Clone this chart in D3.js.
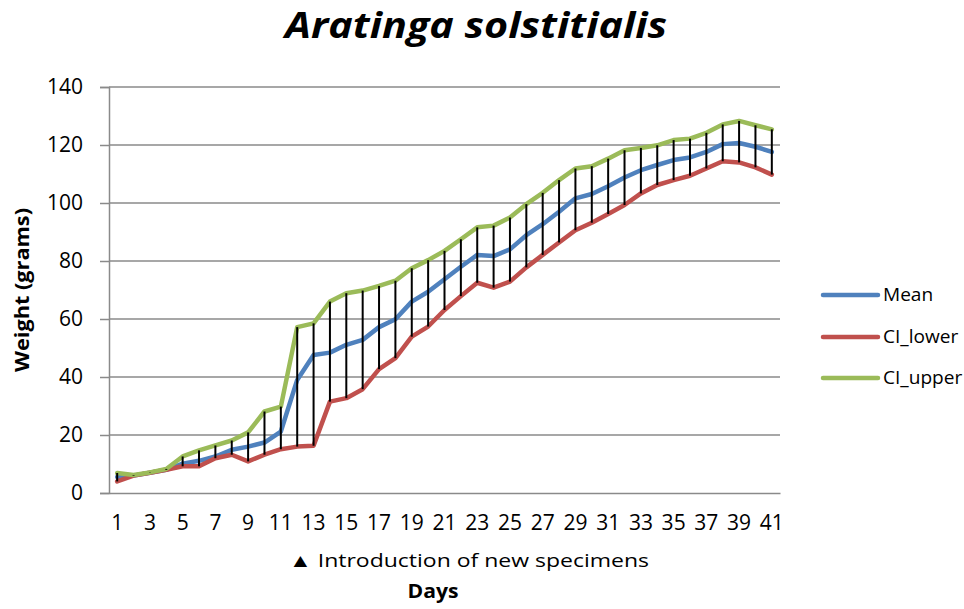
<!DOCTYPE html>
<html><head><meta charset="utf-8">
<script src="https://cdn.jsdelivr.net/npm/d3@7"></script>
<style>body{margin:0;background:#fff;} svg{display:block;font-family:"Open Sans",sans-serif;}</style>
</head><body>
<svg id="c" width="964" height="609"></svg>
<script>
const days = d3.range(1, 42);
const meanVals = [5.5,6,7,8,10.1,11.1,12.6,14.9,16,17.4,21.2,39,47.6,48.4,51.1,52.8,57.2,59.9,66,69.4,73.7,78,82.1,81.7,84,88.9,92.7,97,101.6,103.1,105.8,108.8,111.3,113.1,114.8,115.7,117.6,120.3,120.7,119.4,117.6];
const lowerVals = [4,6,7,8,9.2,9.2,12,13.2,10.9,13.2,15.1,16,16.3,31.5,32.7,35.8,42.7,46.5,53.9,57.4,63.1,67.9,72.5,70.8,72.9,77.8,82.1,86.4,90.6,93.2,96.2,99.3,103.3,106.2,107.9,109.4,111.9,114.4,114,112.3,109.8];
const upperVals = [6.9,6.2,7.1,8.3,12.6,14.7,16.4,18.1,20.9,28.1,29.8,57.2,58.5,66,68.9,69.8,71.4,73.2,77.5,80.3,83.5,87.5,91.6,92.2,95,99.6,103.5,107.9,111.9,112.7,115.3,118.2,119,119.9,121.7,122.2,124.2,127.1,128.3,126.8,125.4];
const seriesNames = ["Mean","CI_lower","CI_upper"];
const seriesColors = ["#4F81BD","#C0504D","#9BBB59"];
const yTicks = [0,20,40,60,80,100,120,140];
const xTickLabels = days.filter(d => d % 2 === 1);

const svg = d3.select("#c");
const L = 109, R = 780, T = 87, B = 493;
const x = d3.scaleBand().domain(days).range([L, R]);
const y = d3.scaleLinear().domain([0, 140]).range([B, T]);
const cx = d => x(d) + x.bandwidth() / 2;

// gridlines
svg.append("g").selectAll("line").data(yTicks.filter(t => t > 0)).join("line")
  .attr("x1", L).attr("x2", R).attr("y1", d => y(d)).attr("y2", d => y(d))
  .attr("stroke", "#8a8a8a").attr("stroke-width", 1.5);

// y axis
const yAxis = svg.append("g").attr("transform", `translate(${L},0)`)
  .call(d3.axisLeft(y).tickValues(yTicks).tickSize(9).tickPadding(17));
yAxis.select(".domain").attr("stroke", "#8a8a8a").attr("stroke-width", 1.5);
yAxis.selectAll(".tick line").attr("stroke", "#8a8a8a").attr("stroke-width", 1.5);
yAxis.selectAll("text").attr("font-family", "Open Sans").attr("font-size", 21).attr("fill", "#000");

// x axis
const xAxis = svg.append("g").attr("transform", `translate(0,${B})`)
  .call(d3.axisBottom(x).tickValues(xTickLabels).tickSize(0).tickPadding(22));
xAxis.select(".domain").attr("stroke", "#8a8a8a").attr("stroke-width", 1.5);
xAxis.selectAll("text").attr("font-family", "Open Sans").attr("font-size", 21).attr("fill", "#000");

// lines
const allSeries = [meanVals, lowerVals, upperVals];
const line = d3.line().x((v, i) => cx(days[i])).y(v => y(v));
allSeries.forEach((vals, k) => {
  svg.append("path").datum(vals).attr("d", line)
    .attr("fill", "none").attr("stroke", seriesColors[k]).attr("stroke-width", 4.5)
    .attr("stroke-linejoin", "round").attr("stroke-linecap", "round");
});

// high-low bars
svg.append("g").selectAll("line").data(days).join("line")
  .attr("x1", d => cx(d)).attr("x2", d => cx(d))
  .attr("y1", (d, i) => y(upperVals[i])).attr("y2", (d, i) => y(lowerVals[i]))
  .attr("stroke", "#000").attr("stroke-width", 2);

// title
svg.append("text").attr("x", 476).attr("y", 38).attr("text-anchor", "middle")
  .attr("font-family", "Open Sans").attr("font-weight", "bold").attr("font-style", "italic")
  .attr("font-size", 35).attr("textLength", 382).attr("lengthAdjust", "spacingAndGlyphs")
  .text("Aratinga solstitialis");

// y title
svg.append("text").attr("transform", "translate(29,290) rotate(-90)").attr("text-anchor", "middle")
  .attr("font-family", "Open Sans").attr("font-weight", "bold").attr("font-size", 20)
  .attr("textLength", 164).attr("lengthAdjust", "spacingAndGlyphs").text("Weight (grams)");

// x annotations
svg.append("text").attr("x", 469).attr("y", 567).attr("text-anchor", "middle")
  .attr("font-family", "Open Sans").attr("font-size", 19)
  .attr("textLength", 360).attr("lengthAdjust", "spacingAndGlyphs").text("▲ Introduction of new specimens");
svg.append("text").attr("x", 433).attr("y", 598).attr("text-anchor", "middle")
  .attr("font-family", "Open Sans").attr("font-weight", "bold").attr("font-size", 20)
  .attr("textLength", 51).attr("lengthAdjust", "spacingAndGlyphs").text("Days");

// legend
const legY = [295, 337, 378];
seriesNames.forEach((n, k) => {
  svg.append("line").attr("x1", 823).attr("x2", 878).attr("y1", legY[k]).attr("y2", legY[k])
    .attr("stroke", seriesColors[k]).attr("stroke-width", 4.5).attr("stroke-linecap", "round");
  const t = svg.append("text").attr("x", 883).attr("y", legY[k]).attr("dy", "0.35em")
    .attr("font-family", "Open Sans").attr("font-size", 18).text(n);
  const w = t.node().getComputedTextLength();
  t.attr("textLength", w * 1.06).attr("lengthAdjust", "spacingAndGlyphs");
});
</script>
</body></html>
